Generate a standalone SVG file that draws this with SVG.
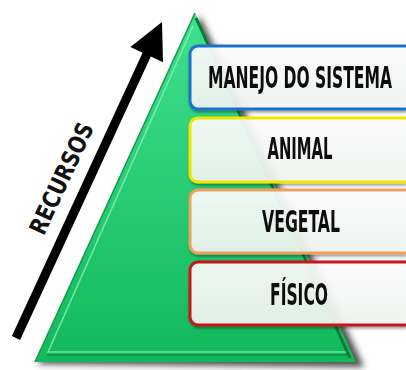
<svg xmlns="http://www.w3.org/2000/svg" width="406" height="370" viewBox="0 0 406 370">
<defs>
  <linearGradient id="gTri" x1="0" y1="0" x2="0" y2="1">
    <stop offset="0" stop-color="#3fe08e"/>
    <stop offset="1" stop-color="#12b95b"/>
  </linearGradient>
  <linearGradient id="gBox" x1="0" y1="0" x2="0" y2="1">
    <stop offset="0" stop-color="#ffffff"/>
    <stop offset="1" stop-color="#f1f7f3"/>
  </linearGradient>
  <filter id="blur" x="-20%" y="-20%" width="140%" height="140%">
    <feGaussianBlur stdDeviation="3"/>
  </filter>
  <filter id="bshadow" x="-10%" y="-20%" width="120%" height="150%">
    <feGaussianBlur in="SourceAlpha" stdDeviation="1.5"/>
    <feOffset dx="1" dy="2"/>
    <feComponentTransfer><feFuncA type="linear" slope="0.4"/></feComponentTransfer>
    <feMerge><feMergeNode/><feMergeNode in="SourceGraphic"/></feMerge>
  </filter>
  <style>
    .box { fill: url(#gBox); fill-opacity: 0.9; stroke-width: 3; }
    .lbl { font-family: "DejaVu Sans Condensed", "Liberation Sans Narrow", "Liberation Sans", sans-serif; font-weight: bold; font-size: 16px; fill: #111; text-anchor: middle; }
  </style>
</defs>

<g id="pyramid">
  <polygon points="200,16 38,364 364,367" fill="#222" opacity="0.8" filter="url(#blur)"/>
  <polygon points="195,13 35,362 356,362" fill="url(#gTri)"/>
  <polyline points="193,26 48,352 346,352" fill="none" stroke="#8ff0b8" stroke-width="1.5" opacity="0.8"/>
  <polyline points="195,13 35,362" fill="none" stroke="#0e9c4a" stroke-width="1.5"/>
  <line x1="47" y1="355" x2="350" y2="355" stroke="#0d9e4b" stroke-width="2"/>
  <line x1="196" y1="18" x2="350" y2="358" stroke="#0a7a38" stroke-width="3"/>
</g>

<g id="connectors">
  <polygon points="20.1,339.9 11.9,336.1 142.6,52.7 130.4,47 162,22 163,62.2 150.8,56.5" fill="#000"/>
</g>

<g id="label-recursos">
  <text class="lbl" x="0" y="0" transform="translate(69 182) rotate(-65) scale(1 1.5)" font-size="18" textLength="120" lengthAdjust="spacingAndGlyphs">RECURSOS</text>
</g>

<g id="node-manejo" filter="url(#bshadow)">
  <path class="box" d="M406,46 H198 A8,8 0 0 0 190,54 V101 A8,8 0 0 0 198,109 H406" stroke="#1f72c8"/>
  <text class="lbl" x="0" y="0" transform="translate(300 88) scale(1 1.9)" textLength="184" lengthAdjust="spacingAndGlyphs">MANEJO DO SISTEMA</text>
</g>
<g id="node-animal" filter="url(#bshadow)">
  <path class="box" d="M406,118 H198 A8,8 0 0 0 190,126 V174 A8,8 0 0 0 198,182 H406" stroke="#f0e600"/>
  <text class="lbl" x="0" y="0" transform="translate(300 159) scale(1 1.9)" textLength="65" lengthAdjust="spacingAndGlyphs">ANIMAL</text>
</g>
<g id="node-vegetal" filter="url(#bshadow)">
  <path class="box" d="M406,190 H198 A8,8 0 0 0 190,198 V245 A8,8 0 0 0 198,253 H406" stroke="#eba25e"/>
  <text class="lbl" x="0" y="0" transform="translate(301 232) scale(1 1.9)" textLength="78" lengthAdjust="spacingAndGlyphs">VEGETAL</text>
</g>
<g id="node-fisico" filter="url(#bshadow)">
  <path class="box" d="M406,262 H198 A8,8 0 0 0 190,270 V317 A8,8 0 0 0 198,325 H406" stroke="#c8141c"/>
  <text class="lbl" x="0" y="0" transform="translate(299 305) scale(1 1.9)" textLength="58" lengthAdjust="spacingAndGlyphs">FÍSICO</text>
</g>
</svg>
